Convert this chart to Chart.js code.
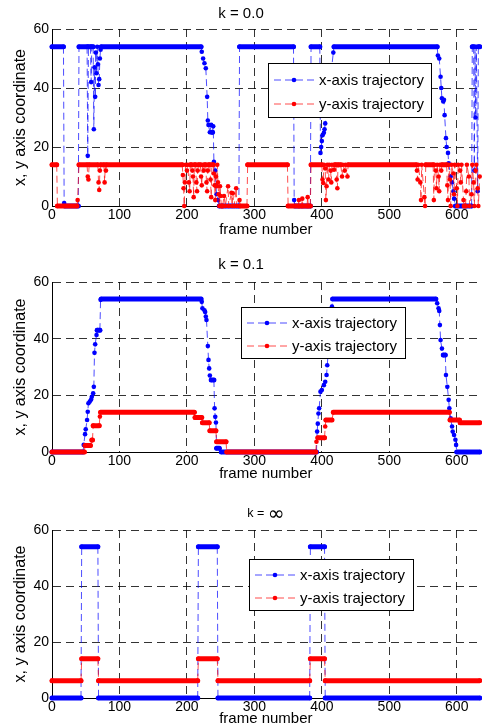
<!DOCTYPE html>
<html>
<head>
<meta charset="utf-8">
<title>trajectories</title>
<script src="https://cdn.jsdelivr.net/npm/chart.js@4.4.1/dist/chart.umd.min.js"></script>
<style>
  html, body { margin: 0; padding: 0; background: #fff; overflow: hidden; width: 482px; height: 726px; }
  .panel { position: absolute; left: 0; width: 482px; }
</style>
</head>
<body>
<div class="panel" style="top:0;height:239px"><canvas id="chartK00"></canvas></div>
<div class="panel" style="top:253px;height:230px"><canvas id="chartK01"></canvas></div>
<div class="panel" style="top:500px;height:228px"><canvas id="chartKInf"></canvas></div>
<script>
// values: [frame, coordinate]
const seriesLabels = ['x-axis trajectory', 'y-axis trajectory'];
const plotTitles = ['k = 0.0', 'k = 0.1', 'k = \u221E'];
const frameMax = 634;
const coordMax = 60;

// k = 0.0
const xTrajK00 = [[0,54],[17,54],[18,1],[19,0],[39,0],[40,54],[52,54],[53,17],[54,54],[57,54],[58,42],[59,54],[61,54],[62,26],[63,47],[64,37],[65,52],[66,45],[67,54],[68,48],[69,41],[70,43],[71,50],[72,53],[73,54],
  [221,54],[222,52.3],[224,50],[226,48.4],[228,46.7],[230,37],[231,29],[232,27.5],[234,25],[236,27.5],[237,25],[238,25],[239,27],[240,15],[242,12],[243,7],[244,4],[246,2],[248,0],[277,0],
  [278,54],[358,54],[359,2],[360,0],[383,0],[384,54],[397,54],[398,18],[399,20],[400,22],[401,24],[403,24.8],[404,26],[405,28],[407,31],[417,52],[418,54],
  [571,54],[572,51],[574,50],[576,43.8],[577,40],[578,36.5],[580,35.4],[581,36],[582,30.8],[584,23],[585,20],[587,18],[588,14.5],[591,10],[593,8],[595,5],[596,2.5],[598,0],[622,0],
  [623,54],[625,54],[626,12],[627,54],[628,30],[629,54],[631,5],[632,54],[634,54]];
const yTrajK00 = [[0,14],[7,14],[8,0],[37,0],[38,2],[40,14],[52,14],[53,10],[54,9],[55,14],[68,14],[69,8],[70,5.4],[71,12],[72,14],[77,14],[78,8],[79,14],[80,12],[81,14],
  [193,14],[194,10.5],[195,6],[196,0],[197,8],[198,14],[200,12],[201,14],[203,8],[204,5],[205,14],[207,14],[208,12],[209,10],[210,3],[211,14],[213,14],[214,8],[215,5],[216,12],[217,14],
  [220,14],[221,10],[222,7],[223,14],[225,12],[226,14],[228,14],[229,8],[230,5],[231,12],[232,14],[234,14],[235,9],[236,3],[237,14],[239,14],[240,11],[241,7],[242,2],[243,10],[244,6.7],
  [245,14],[246,8],[247,4],[248,0],[249,6.7],[250,3.4],[251,0],[253,0],[255,3.4],[257,0],[261,6.7],[262,0],[266,4.5],[267,0],[268,4.3],[270,0],[273,6],[274,0],[278,2],[279,0],[289,0],
  [290,14],[349,14],[350,0],[365,0],[366,2],[367,0],[370,0],[371,2.5],[372,0],[378,0],[379,3],[380,0],[383,0],
  [384,14],[400,14],[401,9],[402,7.8],[403,14],[405,12.7],[406,2],[407,6.7],[408,14],[410,9],[411,14],[413,12],[414,8],[415,14],[418,12.3],[419,14],[421,14],[422,9],[423,6],[424,14],
  [428,14],[430,10],[431,14],[434,12],[435,14],[438,10],[439,14],
  [540,14],[541,12],[542,9],[543,14],[546,8],[547,2],[548,14],[552,3],[553,0],[554,14],[565,14],[566,2],[567,14],[569,12],[570,6],[571,14],[573,10],[574,5],[575,14],[577,12],[578,14],
  [585,14],[586,7],[587,2],[588,14],[590,9],[591,0],[592,14],[595,11],[596,4],[597,14],[600,6],[601,0],[602,14],[605,12],[606,8],[607,14],[610,2],[611,0],[613,0],[614,5],[615,14],
  [618,10],[619,0],[622,4],[623,14],[625,8],[626,0],[628,12],[629,14],[631,6],[632,0],[634,10]];

// k = 0.1
const xTrajK01 = [[0,0],[46,0],[47,2.5],[49,6.3],[50,8],[52,11.3],[53,14.2],[54,17.2],[56,17.8],[58,18.5],[59,19.5],[61,20.7],[62,23],[63,35],[64,38],[66,41.3],[67,43],[71,43],[72,53.7],[73,54],
  [221,54],[222,53],[223,50.7],[226,50],[227,49.4],[228,47.8],[229,46.6],[231,37.4],[232,32.5],[233,29.5],[234,27],[236,25.4],[240,25.4],[241,15.4],[242,12.4],[243,10.4],[244,1.3],[248,1.3],[251,0],
  [392,0],[393,7.2],[394,10],[395,13.6],[396,15.4],[398,21.3],[400,21.9],[403,23.6],[405,24.8],[407,27.2],[408,30.6],[415,51.3],[416,54],
  [569,54],[571,52.5],[573,50.7],[574,49.8],[575,44.8],[576,39.5],[578,36.5],[580,34.2],[583,34.2],[584,27.2],[586,23],[588,18.4],[589,15.4],[591,11.9],[593,9],[594,7.2],[596,6],[598,4.3],[599,2.5],[600,0],[634,0]];
const yTrajK01 = [[0,0],[48,0],[49,2.3],[57,2.3],[59,4.2],[60,4.2],[61,9.3],[70,9.3],[71,12.5],[72,14],[211,14],[212,12.2],[222,12.2],[223,10.3],[233,10.3],[234,7.5],[243,7.5],[244,3.6],[258,3.6],[259,0],
  [391,0],[392,3.6],[394,5],[404,5],[405,9],[406,11.3],[415,11.3],[417,14],[589,14],[590,11.3],[604,11.3],[605,10.3],[634,10.3]];

// k = infinity
const xTrajKInf = [[0,0],[43,0],[44,54],[68,54],[69,0],[216,0],[217,54],[245,54],[246,0],[382,0],[383,54],[404,54],[405,0],[634,0]];
const yTrajKInf = [[0,6.2],[43,6.2],[44,14],[68,14],[69,6.2],[216,6.2],[217,14],[245,14],[246,6.2],[382,6.2],[383,14],[404,14],[405,6.2],[634,6.2]];

Chart.defaults.font.family = '"Liberation Sans", Arial, sans-serif';
Chart.defaults.color = '#000';

const BLUE = 'rgb(0,0,255)';
const RED = 'rgb(255,0,0)';
const BLUE_DASH = 'rgba(0,0,255,0.7)';
const RED_DASH = 'rgba(255,0,0,0.7)';

// boxed legend inside the axes, like the matlab one
const boxLegend = {
  id: 'boxLegend',
  afterDatasetsDraw(chart, args, opts) {
    const ctx = chart.ctx;
    ctx.save();
    ctx.fillStyle = '#fff';
    ctx.fillRect(opts.x, opts.y, opts.w, opts.h);
    ctx.strokeStyle = '#000';
    ctx.lineWidth = 1;
    ctx.strokeRect(opts.x + 0.5, opts.y + 0.5, opts.w, opts.h);
    ctx.font = '15px "Liberation Sans", Arial, sans-serif';
    ctx.textBaseline = 'middle';
    chart.data.datasets.forEach((ds, i) => {
      const cy = opts.y + opts.rows[i];
      const sx = opts.x + 6;
      ctx.strokeStyle = ds.dashColor;
      ctx.setLineDash([7, 4]);
      ctx.beginPath();
      ctx.moveTo(sx, cy);
      ctx.lineTo(sx + 40, cy);
      ctx.stroke();
      ctx.setLineDash([]);
      ctx.fillStyle = ds.pointBackgroundColor;
      ctx.beginPath();
      ctx.arc(sx + 20, cy, 2.3, 0, Math.PI * 2);
      ctx.fill();
      ctx.fillStyle = '#000';
      ctx.fillText(ds.label, opts.x + 51, cy + 1);
    });
    ctx.restore();
  }
};

// title with a big infinity sign (symbol font in the original)
const infTitle = {
  id: 'infTitle',
  afterDraw(chart, args, opts) {
    if (!opts.text) return;
    const ctx = chart.ctx;
    const head = opts.text.slice(0, -1);
    const tail = opts.text.slice(-1);
    ctx.save();
    ctx.fillStyle = '#000';
    ctx.textBaseline = 'middle';
    const f1 = '12.5px "Liberation Sans", Arial, sans-serif';
    const f2 = '20px "DejaVu Sans", sans-serif';
    ctx.font = f1;
    const w1 = ctx.measureText(head).width;
    ctx.font = f2;
    const w2 = ctx.measureText(tail).width;
    const area = chart.chartArea;
    let x = (area.left + area.right) / 2 - (w1 + w2) / 2;
    ctx.font = f1;
    ctx.fillText(head, x, opts.y);
    ctx.font = f2;
    ctx.fillText(tail, x + w1, opts.y + 1);
    ctx.restore();
  }
};

function flat(c) {
  return c.p0.parsed.y === c.p1.parsed.y;
}

function makeDataset(label, pairs, solid, dashed, order) {
  return {
    label,
    data: pairs.map(([x, y]) => ({ x, y })),
    order,
    dashColor: dashed,
    borderColor: dashed,
    borderWidth: 1,
    borderDash: [7, 4],
    pointRadius: 2.3,
    pointHoverRadius: 2.3,
    pointBorderWidth: 0,
    pointBackgroundColor: solid,
    tension: 0,
    clip: false,
    segment: {
      borderWidth: c => flat(c) ? 5 : 1,
      borderDash: c => flat(c) ? [] : [7, 4],
      borderColor: c => flat(c) ? solid : dashed,
      borderCapStyle: c => flat(c) ? 'round' : 'butt'
    }
  };
}

function makeChart(id, title, xPairs, yPairs, p) {
  return new Chart(document.getElementById(id), {
    type: 'line',
    data: {
      datasets: [
        makeDataset(seriesLabels[0], xPairs, BLUE, BLUE_DASH, 1),
        makeDataset(seriesLabels[1], yPairs, RED, RED_DASH, 0)
      ]
    },
    options: {
      responsive: true,
      maintainAspectRatio: false,
      animation: false,
      events: [],
      layout: { padding: { top: p.padTop || 0 } },
      plugins: {
        legend: { display: false },
        tooltip: { enabled: false },
        title: {
          display: !p.customTitle,
          text: title,
          font: { size: p.titleSize, weight: 'normal' },
          padding: p.titlePad
        },
        infTitle: { text: p.customTitle ? title : '', y: 14 },
        boxLegend: p.legend
      },
      scales: {
        x: {
          type: 'linear',
          min: 0,
          max: frameMax,
          afterFit: s => { s.height = p.xAxisHeight; },
          ticks: { stepSize: 100, includeBounds: false, padding: 1, font: { size: 14 }, maxRotation: 0 },
          grid: { color: 'rgba(0,0,0,0.8)', drawTicks: false },
          border: { color: '#000', dash: [8, 5] },
          title: { display: true, text: 'frame number', font: { size: 15 }, padding: { top: 0, bottom: 0 } }
        },
        y: {
          min: 0,
          max: coordMax,
          afterFit: s => { s.width = 52; },
          ticks: { stepSize: 20, padding: 3, font: { size: 14 } },
          grid: { color: 'rgba(0,0,0,0.8)', drawTicks: false },
          border: { color: '#000', dash: [8, 5] },
          title: { display: true, text: 'x, y axis coordinate', font: { size: 16 }, padding: { top: 11, bottom: 0 } }
        }
      }
    },
    plugins: [boxLegend, infTitle]
  });
}

makeChart('chartK00', plotTitles[0], xTrajK00, yTrajK00, {
  titleSize: 15, titlePad: { top: 5, bottom: 6 }, xAxisHeight: 33,
  legend: { x: 268, y: 63, w: 163, h: 54, rows: [17, 41] }
});
makeChart('chartK01', plotTitles[1], xTrajK01, yTrajK01, {
  titleSize: 15, titlePad: { top: 3, bottom: 8 }, xAxisHeight: 31,
  legend: { x: 241, y: 54, w: 164, h: 51, rows: [16, 39] }
});
makeChart('chartKInf', plotTitles[2], xTrajKInf, yTrajKInf, {
  customTitle: true, padTop: 30, xAxisHeight: 30,
  legend: { x: 249, y: 59, w: 164, h: 51, rows: [16, 39] }
});
</script>
</body>
</html>
